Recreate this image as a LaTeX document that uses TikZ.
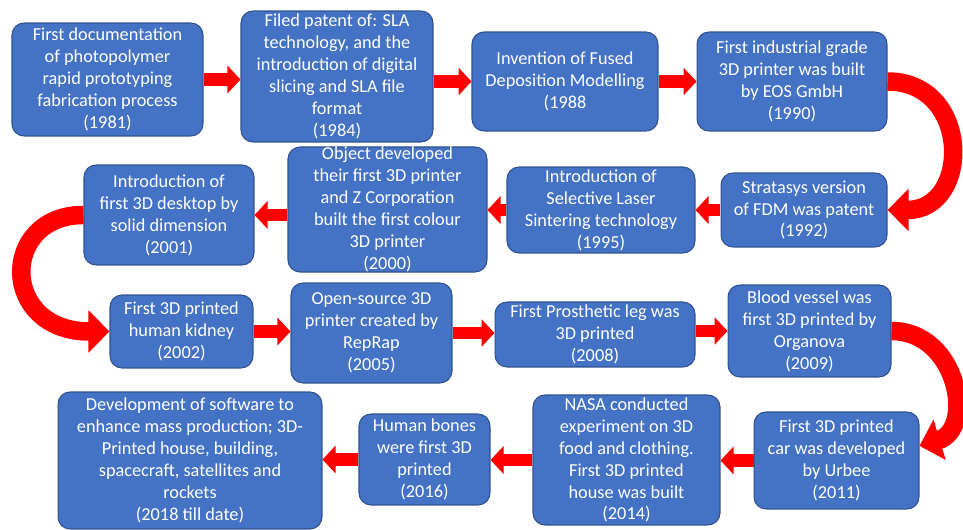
\documentclass[tikz,border=0pt]{standalone}
\usepackage{fontspec}
\setmainfont{Carlito}
\usetikzlibrary{arrows.meta}
\definecolor{boxblue}{HTML}{4472C4}
\definecolor{boxedge}{HTML}{2F528F}
\definecolor{arrowred}{HTML}{FF0000}

\begin{document}
\begin{tikzpicture}[x=0.02cm,y=-0.02cm,
    event/.style={draw=boxedge, fill=boxblue, rounded corners=0.24cm, text=white,
        align=center, inner sep=0pt, line width=0.6pt,
        font=\fontsize{10.4}{12.5}\selectfont},
    flowarrow/.style={draw=arrowred, line width=0.25cm,
        -{Triangle[length=0.26cm, width=0.54cm]}},
    turnarrow/.style={draw=arrowred, line width=0.37cm,
        -{Triangle[length=0.42cm, width=0.82cm]}}]
        \useasboundingbox (0,0) rectangle (963,530);
        % ==== ROW 1 ====
        \node[event, minimum width=3.82cm, minimum height=2.26cm] (b1981) at (107.5,79.5)
            {First documentation\\ of photopolymer\\ rapid prototyping\\ fabrication process\\ (1981)};
        \node[event, minimum width=3.84cm, minimum height=2.62cm] (b1984) at (337,76.5)
            {Filed patent of: SLA\\ technology, and the\\ introduction of digital\\ slicing and SLA file\\ format\\ (1984)};
        \node[event, minimum width=3.72cm, minimum height=1.98cm] (b1988) at (565,81.5)
            {Invention of Fused\\ Deposition Modelling\\ (1988};
        \node[event, minimum width=3.80cm, minimum height=1.98cm] (b1990) at (792,81.5)
            {First industrial grade\\ 3D printer was built\\ by EOS GmbH\\ (1990)};
        % ==== ROW 2 ====
        \node[event, minimum width=3.32cm, minimum height=1.48cm] (b1992) at (804,210)
            {Stratasys version\\ of FDM was patent\\ (1992)};
        \node[event, minimum width=3.76cm, minimum height=1.72cm] (b1995) at (601,210)
            {Introduction of\\ Selective Laser\\ Sintering technology\\ (1995)};
        \node[event, minimum width=3.98cm, minimum height=2.50cm] (b2000) at (387.5,209.5)
            {Object developed\\ their first 3D printer\\ and Z Corporation\\ built the first colour\\ 3D printer\\ (2000)};
        \node[event, minimum width=3.40cm, minimum height=2.00cm] (b2001) at (169,215)
            {Introduction of\\ first 3D desktop by\\ solid dimension\\ (2001)};
        % ==== ROW 3 ====
        \node[event, minimum width=2.86cm, minimum height=1.46cm] (b2002) at (181.5,331.5)
            {First 3D printed\\ human kidney\\ (2002)};
        \node[event, minimum width=3.22cm, minimum height=2.00cm] (b2005) at (371.5,333)
            {Open-source 3D\\ printer created by\\ RepRap\\ (2005)};
        \node[event, minimum width=4.00cm, minimum height=1.30cm] (b2008) at (595,334.5)
            {First Prosthetic leg was\\ 3D printed\\ (2008)};
        \node[event, minimum width=3.26cm, minimum height=1.84cm] (b2009) at (809.5,331)
            {Blood vessel was\\ first 3D printed by\\ Organova\\ (2009)};
        % ==== ROW 4 ====
        \node[event, minimum width=3.30cm, minimum height=1.94cm] (b2011) at (836.5,460.5)
            {First 3D printed\\ car was developed\\ by Urbee\\ (2011)};
        \node[event, minimum width=3.74cm, minimum height=2.60cm] (b2014) at (626.5,460)
            {NASA conducted\\ experiment on 3D\\ food and clothing.\\ First 3D printed\\ house was built\\ (2014)};
        \node[event, minimum width=2.62cm, minimum height=1.82cm] (b2016) at (424.5,459.5)
            {Human bones\\ were first 3D\\ printed\\ (2016)};
        \node[event, minimum width=5.28cm, minimum height=2.74cm] (b2018) at (190,460.5)
            {Development of software to\\ enhance mass production; 3D-\\ Printed house, building,\\ spacecraft, satellites and\\ rockets\\ (2018 till date)};

        % ==== STRAIGHT ARROWS ====
        \draw[flowarrow] (b1981.east) -- (b1984.west |- b1981.east);
        \draw[flowarrow] (b1984.east |- b1988.west) -- (b1988.west);
        \draw[flowarrow] (b1988.east) -- (b1990.west);
        \draw[flowarrow] (b1992.west) -- (b1995.east);
        \draw[flowarrow] (b1995.west) -- (b2000.east |- b1995.west);
        \draw[flowarrow] (b2000.west |- b2001.east) -- (b2001.east);
        \draw[flowarrow] (b2002.east) -- (b2005.west |- b2002.east);
        \draw[flowarrow] (b2005.east) -- (b2008.west |- b2005.east);
        \draw[flowarrow] (b2008.east |- b2009.west) -- (b2009.west);
        \draw[flowarrow] (b2011.west) -- (b2014.east |- b2011.west);
        \draw[flowarrow] (b2014.west) -- (b2016.east |- b2014.west);
        \draw[flowarrow] (b2016.west) -- (b2018.east |- b2016.west);

        % ==== TURNING ARROWS ====
        \draw[turnarrow] (b1990.east) .. controls +(84,0) and +(84,0) .. (b1992.east);
        \draw[turnarrow] (b2001.west) .. controls +(-84,0) and +(-110,0) .. (b2002.west);
        \draw[turnarrow] (b2009.east) .. controls +(66,0) and +(56,-17) .. (b2011.10);
\end{tikzpicture}
\end{document}
